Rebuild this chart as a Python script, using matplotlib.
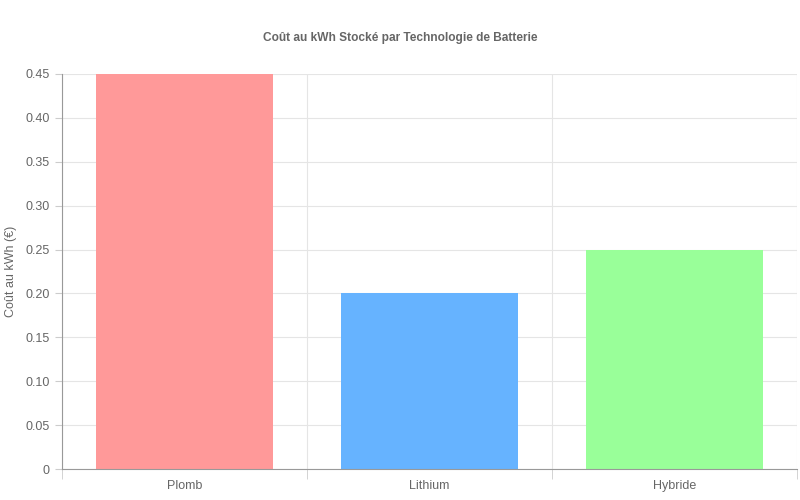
import matplotlib.pyplot as plt
from matplotlib.ticker import FixedLocator, FuncFormatter

categories = ['Plomb', 'Lithium', 'Hybride']
costs = [0.45, 0.20, 0.25]
colors = ['#ff9999', '#66b3ff', '#99ff99']

plt.rcParams['font.family'] = ['Liberation Sans', 'DejaVu Sans']

fig = plt.figure(figsize=(8, 5), dpi=100)
ax = fig.add_axes([0.0775, 0.062, 0.91875, 0.79])

x = list(range(len(categories)))
ax.bar(x, costs, width=0.72, color=colors, zorder=2)

ax.set_xlim(-0.5, len(categories) - 0.5)
ax.set_ylim(0, 0.45)
ax.set_yticks([i * 0.05 for i in range(10)])
ax.yaxis.set_major_formatter(FuncFormatter(lambda v, p: '0' if abs(v) < 1e-9 else '{:.2f}'.format(v)))

ax.set_xticks(x)
ax.set_xticklabels(categories)
ax.xaxis.set_minor_locator(FixedLocator([i - 0.5 for i in range(len(categories) + 1)]))

ax.tick_params(axis='x', which='major', length=0, pad=8, labelsize=9, labelcolor='#666666')
ax.tick_params(axis='x', which='minor', length=7, color='#cccccc')
ax.tick_params(axis='y', length=5, color='#cccccc', pad=4, labelsize=9, labelcolor='#666666')

ax.grid(which='major', axis='y', color='#e5e5e5', linewidth=0.8, zorder=0)
ax.grid(which='minor', axis='x', color='#e5e5e5', linewidth=0.8, zorder=0)

for s in ['top', 'right']:
    ax.spines[s].set_visible(False)
for s in ['left', 'bottom']:
    ax.spines[s].set_color('#999999')
    ax.spines[s].set_linewidth(0.8)

ax.set_ylabel('Coût au kWh (€)', fontsize=9, color='#666666', labelpad=6)
fig.suptitle('Coût au kWh Stocké par Technologie de Batterie', y=0.935,
             fontsize=8.6, fontweight='bold', color='#666666')

fig.savefig('out.png', dpi=100)
